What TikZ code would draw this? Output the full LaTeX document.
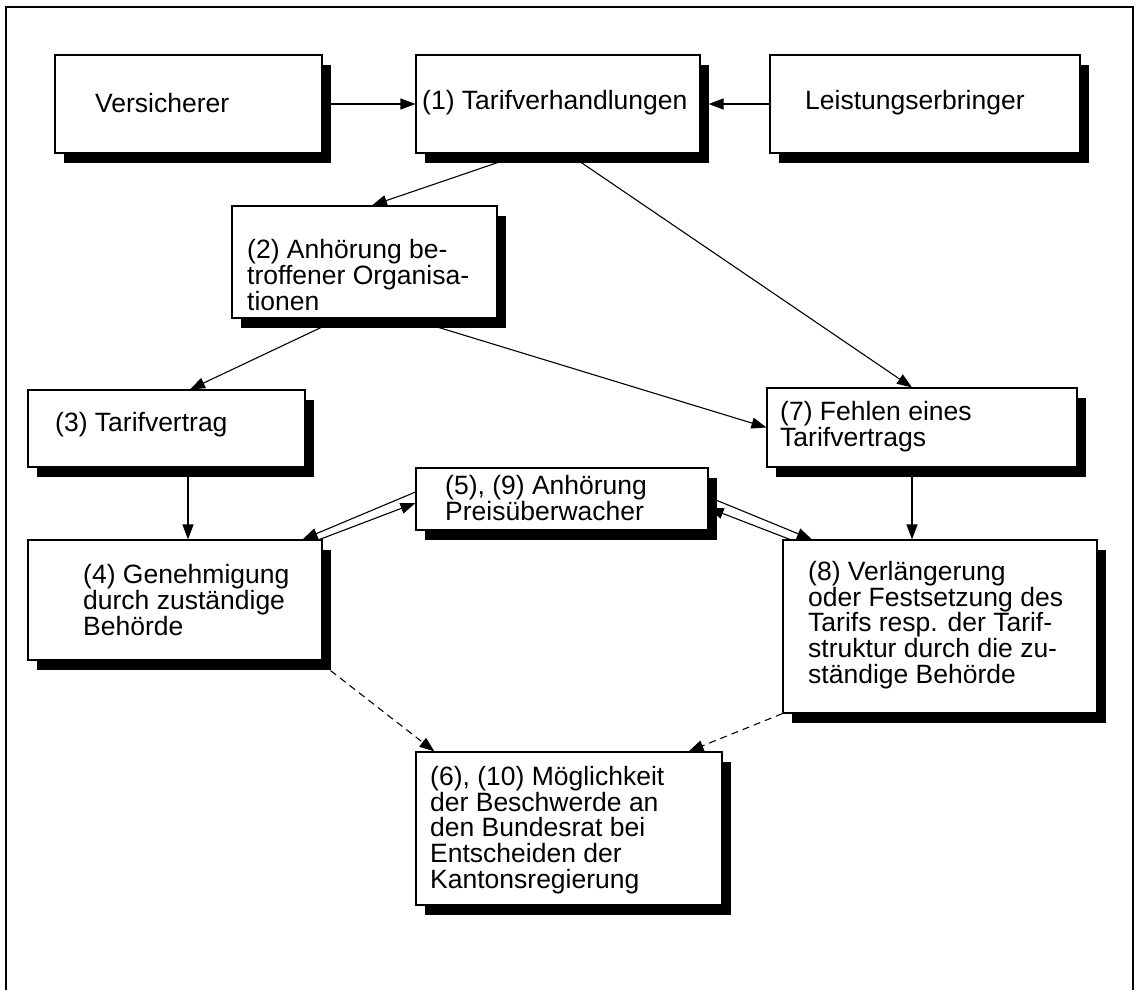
\documentclass[tikz,border=0pt]{standalone}
\usepackage{fontspec}
\setmainfont{Liberation Sans}
\usetikzlibrary{arrows.meta,shadows,calc}
\tikzset{
  box/.style={draw=black, fill=white, line width=1.1pt, inner sep=0pt,
    drop shadow={shadow xshift=9pt, shadow yshift=-10pt, fill=black, opacity=1}},
  txt/.style={anchor=west, align=left, inner sep=0pt,
    font=\fontsize{26.5}{25.8}\selectfont},
  arr/.style={-{Triangle[length=15pt,width=11pt]}, line width=1.1pt},
  darr/.style={arr, dash pattern=on 7pt off 5pt},
}
\begin{document}
\begin{tikzpicture}[x=1pt,y=-1pt]
\useasboundingbox (0,0) rectangle (1137,990);
% frame
\draw[line width=1.1pt] (6,990) -- (6,7) -- (1133,7) -- (1133,990);
% boxes
\node[box, minimum width=267pt, minimum height=98pt] (V)  at (188.5,104) {};
\node[box, minimum width=284pt, minimum height=98pt] (T1) at (558,104) {};
\node[box, minimum width=310pt, minimum height=98pt] (L)  at (925,104) {};
\node[box, minimum width=265pt, minimum height=112pt] (A2) at (364.5,262) {};
\node[box, minimum width=277pt, minimum height=77pt] (T3) at (166.5,428.5) {};
\node[box, minimum width=310pt, minimum height=79pt] (F7) at (922,427.5) {};
\node[box, minimum width=292pt, minimum height=62pt] (P5) at (562,499) {};
\node[box, minimum width=294pt, minimum height=120pt] (G4) at (175,600) {};
\node[box, minimum width=314pt, minimum height=173pt] (V8) at (940,626.5) {};
\node[box, minimum width=306pt, minimum height=153pt] (M6) at (569,828.5) {};
% texts
\node[txt] (tV)  at (95,103) {Versicherer};
\node[txt] (tT1) at (422,103) {(1) Tarifverhandlungen};
\node[txt] (tL)  at (805,103) {Leistungserbringer};
\node[txt] (tA2) at (247,275) {(2) Anhörung be-\\troffener Organisa-\\tionen};
\node[txt] (tT3) at (55,425) {(3) Tarifvertrag};
\node[txt] (tF7) at (780,427) {(7) Fehlen eines\\Tarifvertrags};
\node[txt] (tP5) at (445,498) {(5), (9) Anhörung\\Preisüberwacher};
\node[txt] (tG4) at (83,600) {(4) Genehmigung\\durch zuständige\\Behörde};
\node[txt] (tV8) at (808,625) {(8) Verlängerung\\oder Festsetzung des\\Tarifs resp. der Tarif-\\struktur durch die zu-\\ständige Behörde};
\node[txt] (tM6) at (430,830) {(6), (10) Möglichkeit\\der Beschwerde an\\den Bundesrat bei\\Entscheiden der\\Kantonsregierung};
% connectors
\draw[arr] (V.east) -- (T1.west);
\draw[arr] (L.west) -- ([xshift=8pt]T1.east);
\draw[arr] ([xshift=-34pt]T1.south) -- ([xshift=7.5pt]A2.north);
\draw[arr] ([xshift=10pt]T1.south) -- ([xshift=-10pt]F7.north);
\draw[arr] ([xshift=-24.5pt]A2.south) -- ([xshift=23.5pt]T3.north);
\draw[arr] ([xshift=45pt]A2.south) -- (F7.west);
\draw[arr] ([xshift=21.5pt]T3.south) -- ([xshift=21.5pt]T3.south |- G4.north);
\draw[arr] ([xshift=-10pt]F7.south) -- ([xshift=-10pt]F7.south |- V8.north);
% double arrows with (5),(9)
\draw[arr] ([yshift=7pt]P5.west) -- ([xshift=-20pt]G4.north east);
\draw[arr] ([xshift=-3pt]G4.north east) -- ([yshift=-4pt]P5.west);
\draw[arr] ([yshift=2pt]P5.east) -- ([xshift=-128pt]V8.north);
\draw[arr] ([xshift=-150pt]V8.north) -- ([yshift=-9pt]P5.east);
% dashed
\draw[darr] ([shift={(8pt,-10pt)}]G4.south east) -- ([xshift=19pt]M6.north west);
\draw[darr] (V8.south west) -- ([xshift=-34pt]M6.north east);
\end{tikzpicture}
\end{document}
